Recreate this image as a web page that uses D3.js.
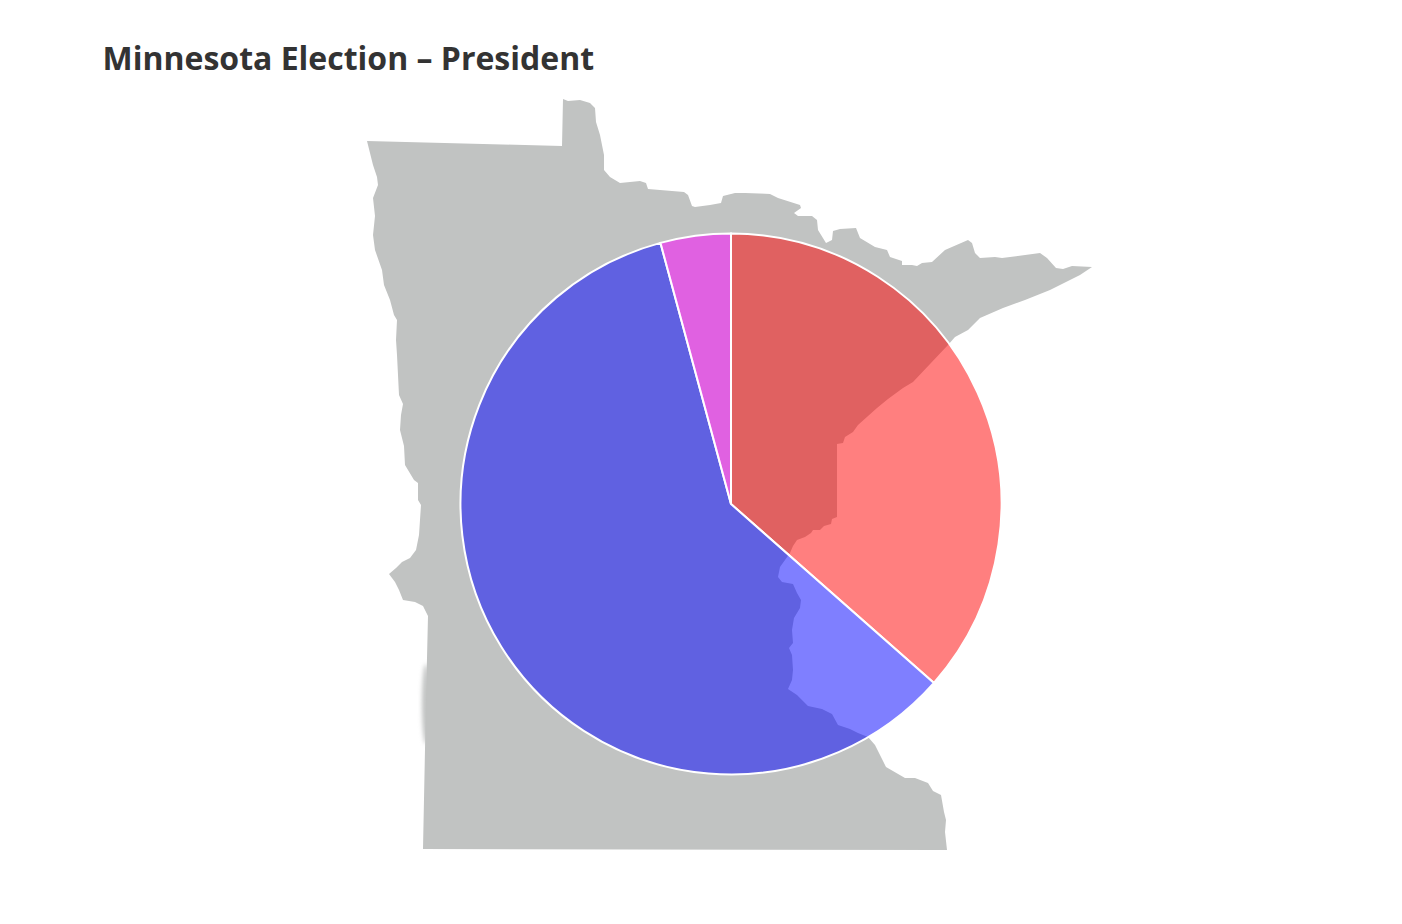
<!DOCTYPE html>
<html>
<head>
<meta charset="utf-8">
<title>Minnesota Election</title>
<script src="https://cdn.jsdelivr.net/npm/d3@7"></script>
<style>
  html, body { margin: 0; padding: 0; background: #fff; }
  svg { display: block; }
</style>
</head>
<body>
<script>
const titleText = "Minnesota Election \u2013 President";

const candidates = ["Republican", "Democrat", "Other"];
const sharePct = [36.5, 59.3, 4.2];
const sliceColors = ["#ff0000", "#0000ff", "#ff00ff"];

// state outline in map units, clockwise from the north west corner
const stateOutline = [
  [0,42],[195,47],[196,0],[201,2],[213,1],[223,4],[228,9],[229,23],[233,36],[237,56],
  [237,71],[243,78],[253,84],[273,82],[279,84],[281,90],[317,93],[321,96],[325,107],[328,108],
  [343,106],[354,104],[356,97],[368,94],[378,94],[403,95],[411,99],[433,106],[434,109],[427,114],
  [431,117],[445,117],[450,121],[451,131],[459,144],[465,141],[466,132],[473,130],[489,129],[493,139],
  [508,148],[520,151],[523,158],[535,162],[535,166],[545,166],[550,167],[555,164],[565,163],[578,151],
  [601,141],[605,144],[608,154],[613,159],[628,158],[635,159],[673,154],[680,159],[689,169],[696,170],
  [705,167],[725,168],[713,176],[683,191],[658,201],[636,209],[613,219],[601,231],[588,238],[581,246],
  [546,283],[536,289],[521,300],[510,309],[491,326],[486,333],[478,338],[476,344],[470,345],[470,418],
  [465,420],[464,425],[457,427],[453,431],[446,431],[444,434],[438,438],[430,441],[426,447],[423,454],
  [413,468],[411,478],[415,483],[426,485],[430,494],[434,501],[433,509],[427,519],[425,531],[426,544],
  [422,549],[425,556],[426,571],[425,581],[421,590],[430,596],[441,607],[455,610],[465,615],[471,626],
  [483,630],[491,634],[501,638],[508,646],[519,668],[538,679],[548,679],[561,684],[566,692],[574,696],
  [577,713],[579,721],[578,733],[580,751],[56,750],[59,601],[61,517],[56,507],[48,503],[36,501],
  [32,491],[28,483],[22,475],[29,469],[35,463],[43,459],[49,451],[52,436],[53,421],[54,406],
  [51,401],[51,384],[47,381],[38,366],[37,347],[33,331],[34,316],[36,305],[32,296],[31,276],
  [30,256],[29,241],[30,221],[27,216],[23,201],[17,186],[15,171],[8,151],[6,136],[8,117],
  [6,99],[11,86],[10,78],[6,66]
];

// soft smudge on the west border: centre x, centre y, half width, half height
const borderSmudge = [59, 605, 4, 40];

const width = 1402, height = 924;
const radius = 270.5;

const svg = d3.select("body").append("svg")
    .attr("width", width)
    .attr("height", height);

svg.append("text")
    .attr("x", 102.5)
    .attr("y", 70)
    .attr("font-family", "'Open Sans', sans-serif")
    .attr("font-weight", 700)
    .attr("font-size", 32)
    .attr("fill", "#333")
    .text(titleText);

var mapX = d3.scaleLinear().domain([0, 725]).range([367, 1092]);
var mapY = d3.scaleLinear().domain([0, 751]).range([99, 850]);

var defs = svg.append("defs");
defs.append("filter")
    .attr("id", "smudge")
    .attr("x", "-200%").attr("width", "500%")
    .attr("y", "-50%").attr("height", "200%")
  .append("feGaussianBlur").attr("stdDeviation", 2);
// the map edge is slightly soft in the source
defs.append("filter")
    .attr("id", "soft")
  .append("feGaussianBlur").attr("stdDeviation", 0.5);

svg.append("ellipse")
    .attr("cx", mapX(borderSmudge[0]))
    .attr("cy", mapY(borderSmudge[1]))
    .attr("rx", borderSmudge[2])
    .attr("ry", borderSmudge[3])
    .attr("fill", "#c1c3c2")
    .attr("filter", "url(#smudge)");

var outline = d3.line()
    .x(d => mapX(d[0]))
    .y(d => mapY(d[1]))
    .curve(d3.curveLinearClosed);

svg.append("path")
    .attr("d", outline(stateOutline))
    .attr("fill", "#c1c3c2")
    .attr("filter", "url(#soft)");

// the pie sits on the map at half opacity so the border shows through
var pie = d3.pie().sort(null).value(d => d);
var arc = d3.arc().innerRadius(0).outerRadius(radius);
var color = d3.scaleOrdinal().domain(candidates).range(sliceColors);

svg.append("g")
    .attr("transform", "translate(731,504)")
  .selectAll("path")
    .data(pie(sharePct))
  .enter().append("path")
    .attr("d", arc)
    .attr("fill", (d, i) => color(candidates[i]))
    .attr("fill-opacity", 0.5)
    .attr("stroke", "#fff")
    .attr("stroke-width", 2);
</script>
</body>
</html>
